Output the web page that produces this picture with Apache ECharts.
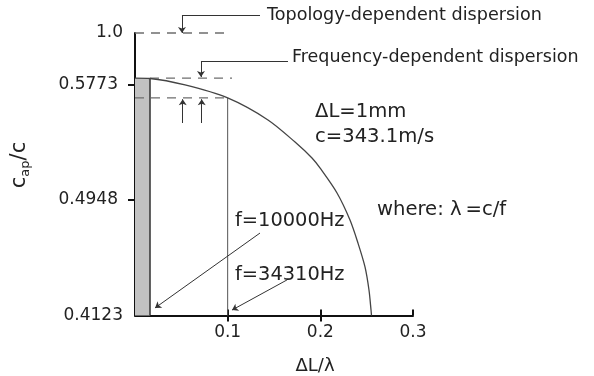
<!DOCTYPE html>
<html><head><meta charset="utf-8">
<script src="https://cdn.jsdelivr.net/npm/echarts@6/dist/echarts.min.js"></script>
<style>html,body{margin:0;padding:0;background:#fff}#c{width:594px;height:376px}</style>
</head><body><div id="c"></div>
<script>
// ---- data (x = ΔL/λ, y = c_ap/c, y axis is broken above 0.5773: "1.0" is drawn at 0.6141) ----
const curveX = [0, 0.0162, 0.054, 0.100, 0.1435, 0.1727, 0.191, 0.1996, 0.218, 0.232, 0.2406, 0.2482, 0.2525, 0.2547, 0.2552];
const curveY = [0.5819, 0.5816, 0.5770, 0.5677, 0.5520, 0.5362, 0.5248, 0.5177, 0.4998, 0.4805, 0.4641, 0.4470, 0.4305, 0.4162, 0.4123];
const yTickValues = [0.4123, 0.4948, 0.5773, 0.6141];
const yTickLabels = ['0.4123', '0.4948', '0.5773', '1.0'];
const xTickValues = [0.1, 0.2, 0.3];
const xTickLabels = ['0.1', '0.2', '0.3'];
const f10000X = 0.0162;     // ΔL/λ marked for f=10000Hz (as drawn)
const f34310X = 0.1;        // ΔL/λ for f=34310Hz
const topologyLevel = 0.6141; // position of 1.0
const freqLevel = 0.5819;
const sampleLevel = 0.5677;
const yMin = 0.4123, yMax = 0.6141, xMin = 0, xMax = 0.3;

// annotation leaders (data coordinates)
const plainLeaders = [
  [[0.1349, 0.6269], [0.0507, 0.6269]],
  [[0.1651, 0.5941], [0.0712, 0.5941]]
];
const arrowLeaders = [
  [[0.0507, 0.6269], [0.0507, 0.6141]],
  [[0.0712, 0.5941], [0.0712, 0.5827]],
  [[0.0515, 0.5498], [0.0515, 0.5668]],
  [[0.0720, 0.5498], [0.0720, 0.5668]],
  [[0.1349, 0.4712], [0.0216, 0.4177]],
  [[0.1640, 0.4377], [0.1047, 0.4162]]
];

const FONT = 'DejaVu Sans';
const TXT = '#222';
const curve = curveX.map((x, i) => [x, curveY[i]]);
const barPts = curve.filter(p => p[0] <= f10000X + 1e-9);
const sampleY = curveY[curveX.indexOf(f34310X)];

const chart = echarts.init(document.getElementById('c'), null, {renderer: 'canvas'});
const labelFmt = v => {
  let best = 0;
  yTickValues.forEach((t, i) => { if (Math.abs(t - v) < Math.abs(yTickValues[best] - v)) best = i; });
  const lab = yTickLabels[best];
  return (best === 0 || best === 3) ? '{p|' + lab + '}' : '{t|' + lab + '}';
};
const dashStyle = {color: '#6e6e6e', width: 1.3, type: [9, 7]};
const lineSeries = (data, style, extra) => Object.assign({
  type: 'line', data: data, symbol: 'none', silent: true, clip: false, lineStyle: style, z: 3
}, extra || {});
const txt = (s, x, y, size, extra) => ({type: 'text', x: x, y: y,
  style: Object.assign({text: s, font: size + 'px "DejaVu Sans"', fill: TXT, verticalAlign: 'middle'}, extra || {})});

chart.setOption({
  animation: false,
  backgroundColor: '#fff',
  grid: {left: 135, right: 181, top: 33, bottom: 60.5, containLabel: false},
  xAxis: [{
    type: 'value', min: xMin, max: xMax, position: 'bottom',
    axisLine: {show: true, lineStyle: {color: '#111', width: 2}},
    axisTick: {show: true, inside: false, length: 6, customValues: xTickValues.slice(0, 2), lineStyle: {color: '#111', width: 2}},
    axisLabel: {show: true, customValues: xTickValues, formatter: v => xTickLabels[xTickValues.findIndex(t => Math.abs(t - v) < 1e-6)],
      margin: 9, fontFamily: FONT, fontSize: 17, color: TXT},
    splitLine: {show: false}
  }, {
    type: 'value', min: xMin, max: xMax, position: 'bottom',
    axisLine: {show: false},
    axisTick: {show: true, inside: true, length: 6, customValues: xTickValues, lineStyle: {color: '#111', width: 2}},
    axisLabel: {show: false}, splitLine: {show: false}
  }],
  yAxis: [{
    type: 'value', min: yMin, max: yMax, position: 'left',
    axisLine: {show: true, lineStyle: {color: '#111', width: 2}},
    axisTick: {show: true, inside: false, length: 7, customValues: [0.4948, 0.5773], lineStyle: {color: '#111', width: 2}},
    axisLabel: {show: true, customValues: yTickValues, formatter: labelFmt, margin: 12,
      rich: {
        p: {fontFamily: FONT, fontSize: 17, color: TXT},
        t: {fontFamily: FONT, fontSize: 17, color: TXT, padding: [0, 5, 0, 0]}
      }},
    splitLine: {show: false}
  }, {
    type: 'value', min: yMin, max: yMax, position: 'left',
    axisLine: {show: false},
    axisTick: {show: true, inside: true, length: 7, customValues: [0.4948, 0.5773], lineStyle: {color: '#111', width: 2}},
    axisLabel: {show: false}, splitLine: {show: false}
  }],
  series: [
    lineSeries(barPts, {width: 0}, {areaStyle: {color: '#c2c2c2', origin: 'start', opacity: 1}, z: 2}),
    lineSeries([[f10000X, yMin], [f10000X, barPts[barPts.length - 1][1]]], {color: '#333', width: 1.5}),
    lineSeries([[f34310X, yMin], [f34310X, sampleY]], {color: '#555', width: 1}),
    lineSeries([[0, topologyLevel], [0.1025, topologyLevel]], dashStyle),
    lineSeries([[f10000X, freqLevel], [0.1047, freqLevel]], dashStyle),
    lineSeries([[0, sampleLevel], [f34310X, sampleLevel]], dashStyle),
    lineSeries(curve, {color: '#444', width: 1.3}, {smooth: 0.3, z: 4}),
    {type: 'lines', coordinateSystem: 'cartesian2d', clip: false, silent: true, z: 5,
      symbol: ['none', 'none'], lineStyle: {color: '#333', width: 1, opacity: 1},
      data: plainLeaders.map(c => ({coords: c}))},
    {type: 'lines', coordinateSystem: 'cartesian2d', clip: false, silent: true, z: 5,
      symbol: ['none', 'arrow'], symbolSize: 6, lineStyle: {color: '#333', width: 1, opacity: 1},
      data: arrowLeaders.map(c => ({coords: c}))}
  ],
  graphic: [
    txt('Topology-dependent dispersion', 267, 15, 17.6),
    txt('Frequency-dependent dispersion', 292, 57, 17.5),
    txt('ΔL=1mm', 315, 112, 19.6),
    txt('c=343.1m/s', 315, 137, 19.6),
    txt('where: λ\u2009=c/f', 377, 210, 19.6),
    txt('f=10000Hz', 235, 221, 19.4),
    txt('f=34310Hz', 235, 275, 19.4),
    txt('ΔL/λ', 315, 366, 18, {align: 'center'}),
    {type: 'text', x: 20, y: 165, rotation: Math.PI / 2, style: {
      text: '{a|c}{b|ap}{a|/c}', align: 'center', verticalAlign: 'middle',
      rich: {a: {fontFamily: FONT, fontSize: 21, fill: TXT, color: TXT},
             b: {fontFamily: FONT, fontSize: 13, fill: TXT, color: TXT, padding: [11, 0, 0, 0]}}}}
  ]
});
</script>
</body></html>
